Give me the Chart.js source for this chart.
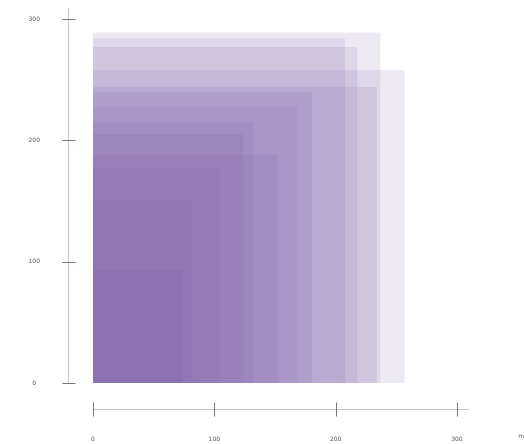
<!DOCTYPE html>
<html><head><meta charset="utf-8">
<script src="https://cdn.jsdelivr.net/npm/chart.js@4/dist/chart.umd.min.js"></script>
<style>html,body{margin:0;padding:0;background:#fff;}#wrap{width:524px;height:444px;}</style>
</head><body><div id="wrap"><canvas id="c" width="524" height="444"></canvas></div>
<script>
// Data: each rectangle is anchored at the origin, with a width (x) and height (y)
const rectWidths  = [237, 208, 218, 257, 234, 181, 168, 132, 124, 152, 105, 82, 74];
const rectHeights = [289, 284, 277, 258, 244, 240, 228, 215, 205, 188, 177, 151, 93];
const xTicks = [0, 100, 200, 300];
const yTicks = [0, 100, 200, 300];
const xAxisEnd = 310;
const yAxisEnd = 309;
const axisTitle = 'm';

const fillColor = 'rgba(117,82,159,0.13)';

const datasets = rectWidths.map((w, i) => ({
  data: [{x: 0, y: rectHeights[i]}, {x: w, y: rectHeights[i]}],
  showLine: true,
  fill: 'origin',
  backgroundColor: fillColor,
  borderWidth: 0,
  borderColor: 'rgba(0,0,0,0)',
  pointRadius: 0,
  pointHoverRadius: 0
}));

const axisPlugin = {
  id: 'axisLines',
  afterDraw(chart) {
    const {ctx, chartArea, scales: {x, y}} = chart;
    ctx.save();
    ctx.lineWidth = 1;
    const ax = chartArea.left + 0.5;
    const ay = Math.round(chartArea.bottom) - 0.5;
    ctx.strokeStyle = '#c4c4c4';
    ctx.beginPath();
    ctx.moveTo(ax, y.getPixelForValue(0));
    ctx.lineTo(ax, y.getPixelForValue(yAxisEnd));
    ctx.stroke();
    ctx.beginPath();
    ctx.moveTo(x.getPixelForValue(0), ay);
    ctx.lineTo(x.getPixelForValue(xAxisEnd), ay);
    ctx.stroke();
    ctx.strokeStyle = '#777';
    yTicks.forEach(v => {
      const p = Math.round(y.getPixelForValue(v)) + 0.5;
      ctx.beginPath(); ctx.moveTo(ax - 6, p); ctx.lineTo(ax + 7, p); ctx.stroke();
    });
    xTicks.forEach(v => {
      const p = Math.round(x.getPixelForValue(v)) + 0.5;
      ctx.beginPath(); ctx.moveTo(p, ay - 7); ctx.lineTo(p, ay + 7); ctx.stroke();
    });
    ctx.restore();
  }
};

new Chart(document.getElementById('c'), {
  type: 'scatter',
  data: {datasets},
  options: {
    responsive: false,
    animation: false,
    devicePixelRatio: 1,
    layout: {padding: 0},
    plugins: {
      legend: {display: false},
      tooltip: {enabled: false},
      title: {display: false}
    },
    scales: {
      x: {
        type: 'linear', min: -20.61, max: 355.3,
        grid: {display: false, drawTicks: false},
        border: {display: false},
        title: {display: true, text: axisTitle, align: 'end', color: '#555',
                font: {size: 6, family: 'DejaVu Sans'}, padding: {top: 0, bottom: 4}},
        afterBuildTicks: s => { s.ticks = xTicks.map(v => ({value: v})); },
        afterFit: s => { s.height = 34; s.paddingLeft = 0; s.paddingRight = 0; },
        ticks: {padding: 26, color: '#555', font: {size: 6, family: 'DejaVu Sans'}, maxRotation: 0, autoSkip: false}
      },
      y: {
        type: 'linear', min: -22.26, max: 315.75,
        grid: {display: false, drawTicks: false},
        border: {display: false},
        afterBuildTicks: s => { s.ticks = yTicks.map(v => ({value: v})); },
        afterFit: s => { s.width = 68; s.paddingTop = 0; s.paddingBottom = 0; },
        ticks: {padding: 28, crossAlign: 'center', color: '#555', font: {size: 6, family: 'DejaVu Sans'}, autoSkip: false}
      }
    }
  },
  plugins: [axisPlugin]
});
</script>
</body></html>
